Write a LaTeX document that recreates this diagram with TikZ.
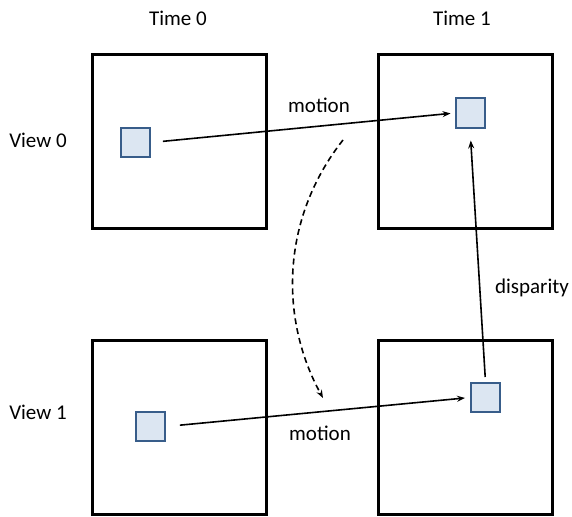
\documentclass[tikz,border=0pt]{standalone}
\usepackage{fontspec}
\setmainfont{Carlito}
\usetikzlibrary{arrows.meta}
\definecolor{sqfill}{HTML}{DCE6F2}
\definecolor{sqdraw}{HTML}{385D8A}
\begin{document}
\begin{tikzpicture}[x=1pt,y=-1pt,
  frame/.style={draw=black,line width=3pt,minimum size=174pt,inner sep=0pt},
  blk/.style={draw=sqdraw,fill=sqfill,line width=2pt,minimum size=29pt,inner sep=0pt},
  lbl/.style={font=\fontsize{21}{25}\selectfont,inner sep=0pt},
  conn/.style={line width=1.6pt,-{Stealth[length=8pt,width=6pt]}}]
\useasboundingbox (0,0) rectangle (572,516);
\node[frame] (f00) at (179.5,141.5) {};
\node[frame] (f01) at (465,141.5) {};
\node[frame] (f10) at (179.5,427.5) {};
\node[frame] (f11) at (465,427.5) {};
\node[blk] (a) at (135.5,142.5) {};
\node[blk] (b) at (470,113) {};
\node[blk] (c) at (150.5,426.5) {};
\node[blk] (d) at (485.5,397.5) {};
\node[lbl] (t0) at (178,18) {Time 0};
\node[lbl] (t1) at (462,18) {Time 1};
\node[lbl] (v0) at (38,140) {View 0};
\node[lbl] (v1) at (38,412) {View 1};
\node[lbl] (m0) at (319,105) {motion};
\node[lbl] (m1) at (320,433) {motion};
\node[lbl] (dp) at (532,288) {disparity};
\draw[conn,shorten <=12pt,shorten >=4pt] (a.east) -- (b.west);
\draw[conn,shorten <=14pt,shorten >=5pt] (c.east) -- (d.west);
\draw[conn,shorten <=5pt,shorten >=12pt] (d.north) -- (b.south);
\coordinate (ds) at (343,140);
\coordinate (de) at (323,398);
\draw[line width=1.6pt,dash pattern=on 6pt off 4pt,-{Stealth[length=8pt,width=6pt]}] (ds) .. controls (280,220) and (280,320) .. (de);
\end{tikzpicture}
\end{document}
